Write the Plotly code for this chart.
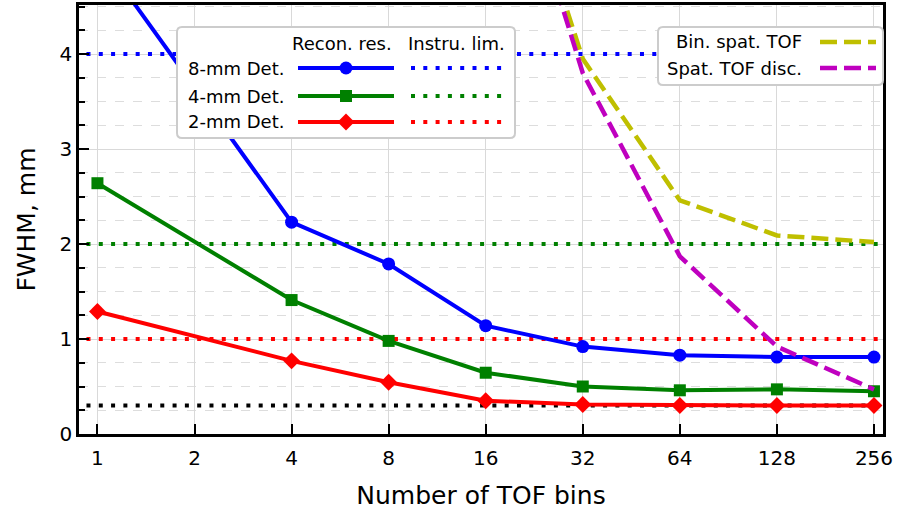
import plotly.graph_objects as go
import math

# ---------------- data ----------------
bins = [1, 4, 8, 16, 32, 64, 128, 256]
tick_bins = [1, 2, 4, 8, 16, 32, 64, 128, 256]
tick_labels = ["1", "2", "4", "8", "16", "32", "64", "128", "256"]

recon_8mm = [5.07, 2.23, 1.79, 1.14, 0.92, 0.83, 0.81, 0.81]
recon_4mm = [2.64, 1.41, 0.98, 0.645, 0.50, 0.46, 0.47, 0.45]
recon_2mm = [1.29, 0.77, 0.545, 0.35, 0.31, 0.30, 0.30, 0.30]

limit_8mm = 4.0
limit_4mm = 2.0
limit_2mm = 1.0
limit_floor = 0.30

tof_bins = [16, 32, 64, 128, 256]
bin_spat_tof = [7.1, 3.95, 2.46, 2.09, 2.02]
spat_tof_disc = [7.1, 3.80, 1.87, 0.92, 0.47]

series_names = ["8-mm Det.", "4-mm Det.", "2-mm Det."]
col_headers = ["Recon. res.", "Instru. lim."]
dash_names = ["Bin. spat. TOF", "Spat. TOF disc."]

# ---------------- style ----------------
BLUE, GREEN, RED, BLACK = "#0000ff", "#008000", "#ff0000", "#000000"
YEL, MAG = "#bfbf00", "#bf00bf"
FONT = "DejaVu Sans"
DOT = "4px,8.3px"
DASH = "17px,7px"
LW = 4

W, H = 901, 515
L, R, T, B = 79, 18, 5, 81
PW, PH = W - L - R, H - T - B


def pp(px, py):
    return (px - L) / PW, (H - B - py) / PH


fig = go.Figure()

# instrument limits (horizontal dotted lines spanning the whole axis, clipped)
span = [min(tick_bins) / 2, max(tick_bins) * 2]
for val, col in [(limit_8mm, BLUE), (limit_4mm, GREEN), (limit_2mm, RED), (limit_floor, BLACK)]:
    fig.add_trace(go.Scatter(x=span, y=[val, val], mode="lines",
                             line=dict(color=col, width=4, dash=DOT),
                             showlegend=False, hoverinfo="skip"))

# reconstruction resolution
for vals, col, sym, sz, name in [
    (recon_8mm, BLUE, "circle", 13, series_names[0]),
    (recon_4mm, GREEN, "square", 12, series_names[1]),
    (recon_2mm, RED, "diamond", 13, series_names[2]),
]:
    fig.add_trace(go.Scatter(x=bins, y=vals, mode="lines+markers", name=name,
                             line=dict(color=col, width=LW),
                             marker=dict(symbol=sym, size=sz, color=col),
                             showlegend=False))

fig.add_trace(go.Scatter(x=tof_bins, y=bin_spat_tof, mode="lines", name=dash_names[0],
                         line=dict(color=YEL, width=4.5, dash=DASH), showlegend=False))
fig.add_trace(go.Scatter(x=tof_bins, y=spat_tof_disc, mode="lines", name=dash_names[1],
                         line=dict(color=MAG, width=4.5, dash=DASH), showlegend=False))

# ---------------- custom legends ----------------
shapes = []
annots = []


def rrect(x0, y0, x1, y1, r=5):
    a = pp(x0 + r, y0); b = pp(x1 - r, y0); c = pp(x1, y0); d = pp(x1, y0 + r)
    e = pp(x1, y1 - r); f = pp(x1, y1); g = pp(x1 - r, y1); h = pp(x0 + r, y1)
    i = pp(x0, y1); j = pp(x0, y1 - r); k = pp(x0, y0 + r); l = pp(x0, y0)
    s = (f"M{a[0]},{a[1]} L{b[0]},{b[1]} Q{c[0]},{c[1]} {d[0]},{d[1]} "
         f"L{e[0]},{e[1]} Q{f[0]},{f[1]} {g[0]},{g[1]} L{h[0]},{h[1]} "
         f"Q{i[0]},{i[1]} {j[0]},{j[1]} L{k[0]},{k[1]} Q{l[0]},{l[1]} {a[0]},{a[1]} Z")
    return dict(type="path", xref="paper", yref="paper", path=s,
                fillcolor="white", line=dict(color="#cccccc", width=2), layer="above")


def seg(x0, x1, y, col, width, dash="solid"):
    p0 = pp(x0, y); p1 = pp(x1, y)
    return dict(type="line", xref="paper", yref="paper", x0=p0[0], y0=p0[1], x1=p1[0], y1=p1[1],
                line=dict(color=col, width=width, dash=dash), layer="above")


def text(x, y, s, anchor):
    p = pp(x, y)
    return dict(x=p[0], y=p[1], xref="paper", yref="paper", text=s, showarrow=False,
                xanchor=anchor, yanchor="middle", font=dict(family=FONT, size=18, color="black"))


# left legend
shapes.append(rrect(177, 27, 515, 138))
annots.append(text(342, 43, col_headers[0], "center"))
annots.append(text(456, 43, col_headers[1], "center"))
rows = [68, 96, 122]
cols = [BLUE, GREEN, RED]
for yy, col, name, kind in zip(rows, cols, series_names, ["circle", "square", "diamond"]):
    annots.append(text(286, yy, name, "right"))
    shapes.append(seg(298, 394, yy, col, LW))
    shapes.append(seg(411, 503, yy, col, 4, DOT))
    cx = 346
    if kind == "circle":
        p0 = pp(cx - 6.5, yy + 6.5); p1 = pp(cx + 6.5, yy - 6.5)
        shapes.append(dict(type="circle", xref="paper", yref="paper", x0=p0[0], y0=p0[1],
                           x1=p1[0], y1=p1[1], fillcolor=col, line=dict(color=col, width=0),
                           layer="above"))
    elif kind == "square":
        p0 = pp(cx - 6, yy + 6); p1 = pp(cx + 6, yy - 6)
        shapes.append(dict(type="rect", xref="paper", yref="paper", x0=p0[0], y0=p0[1],
                           x1=p1[0], y1=p1[1], fillcolor=col, line=dict(color=col, width=0),
                           layer="above"))
    else:
        q = [pp(cx, yy - 8.5), pp(cx + 8.5, yy), pp(cx, yy + 8.5), pp(cx - 8.5, yy)]
        path = "M" + " L".join(f"{a},{b}" for a, b in q) + " Z"
        shapes.append(dict(type="path", xref="paper", yref="paper", path=path,
                           fillcolor=col, line=dict(color=col, width=0), layer="above"))

# right legend
shapes.append(rrect(658, 27, 883, 85))
for yy, col, name in zip([42, 68], [YEL, MAG], dash_names):
    annots.append(text(804, yy, name, "right"))
    shapes.append(seg(820, 876, yy, col, 4.5, DASH))

step = math.log10(2)
fig.update_layout(
    width=W, height=H,
    margin=dict(l=L, r=R, t=T, b=B, autoexpand=False),
    paper_bgcolor="white", plot_bgcolor="white",
    font=dict(family=FONT, size=20, color="black"),
    shapes=shapes,
    annotations=annots,
    showlegend=False,
)
fig.update_xaxes(
    type="log", range=[-0.19 * step, 8.093 * step],
    tickvals=tick_bins, ticktext=tick_labels,
    ticks="inside", ticklen=10, tickwidth=2, tickcolor="black",
    showline=True, linewidth=2.5, linecolor="black", mirror=True,
    showgrid=True, gridcolor="#d9d9d9", gridwidth=1.2,
    ticklabelstandoff=4,
    title=dict(text="Number of TOF bins", font=dict(size=25, family=FONT), standoff=18),
    automargin=False, zeroline=False,
)
fig.update_yaxes(
    range=[0, 4.516], tickvals=[0, 1, 2, 3, 4],
    ticks="inside", ticklen=10, tickwidth=2, tickcolor="black",
    showline=True, linewidth=2.5, linecolor="black", mirror=True,
    showgrid=True, gridcolor="#d9d9d9", gridwidth=1.2,
    minor=dict(dtick=0.25, ticks="inside", ticklen=6, tickwidth=1.5, tickcolor="black",
               showgrid=True, gridcolor="#dddddd", griddash="dash", gridwidth=1.2),
    title=dict(text="FWHM, mm", font=dict(size=25, family=FONT), standoff=17),
    automargin=False, zeroline=False,
)

fig.write_html("out.html", config={"displayModeBar": False},
               post_script="document.body.style.margin='0';")
